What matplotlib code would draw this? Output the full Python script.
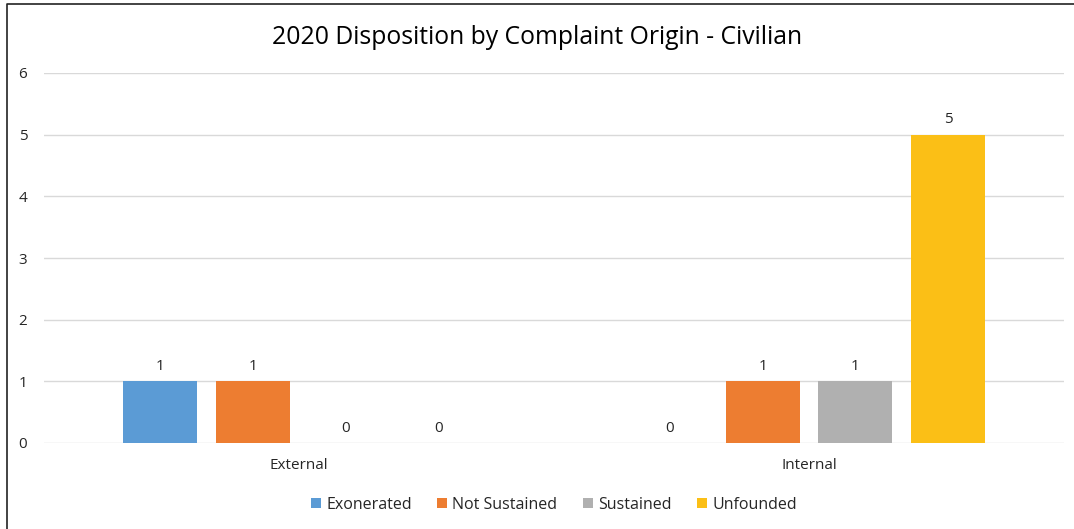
import matplotlib
matplotlib.use("Agg")
import matplotlib.pyplot as plt
from matplotlib.lines import Line2D
import numpy as np

plt.rcParams['font.family'] = ['Open Sans', 'DejaVu Sans']

categories = ["External", "Internal"]
series_names = ["Exonerated", "Not Sustained", "Sustained", "Unfounded"]
exonerated = [1, 0]
not_sustained = [1, 1]
sustained = [0, 1]
unfounded = [0, 5]
colors = ["#5B9BD5", "#ED7D31", "#B0B0B0", "#FBBF16"]

W, H = 1074, 529
fig = plt.figure(figsize=(W / 100, H / 100), dpi=100)
ax = fig.add_axes([44 / W, 1 - 443 / H, (1064 - 44) / W, (443 - 73) / H])

x = np.arange(len(categories))
bar_w = 0.145
step = 0.182
all_series = [exonerated, not_sustained, sustained, unfounded]
for i, (name, vals, c) in enumerate(zip(series_names, all_series, colors)):
    offs = (i - 1.5) * step
    bars = ax.bar(x + offs, vals, width=bar_w, color=c, label=name, zorder=3)
    for b, v in zip(bars, vals):
        ax.text(b.get_x() + b.get_width() / 2, v + 0.12, str(v),
                ha='center', va='bottom', fontsize=11, color='#262626')

ax.set_xlim(-0.5, 1.5)
ax.set_ylim(0, 6)
ax.set_yticks(range(0, 7))
ax.set_xticks(x)
ax.set_xticklabels(categories)
ax.grid(axis='y', color='#D9D9D9', linewidth=1, zorder=0)
for s in ax.spines.values():
    s.set_visible(False)
ax.tick_params(axis='both', length=0, labelsize=11, colors='#262626')
ax.tick_params(axis='y', pad=12)
ax.tick_params(axis='x', pad=11)

fig.suptitle("2020 Disposition by Complaint Origin - Civilian", y=1 - 37 / H,
             va='center', fontsize=17.8, color='#000000')

ax.legend(loc='center', bbox_to_anchor=(0.5, (443 - 505) / (443 - 73)),
          ncol=4, frameon=False, fontsize=11.5, handlelength=0.6, handleheight=0.6,
          handletextpad=0.35, columnspacing=1.6, labelcolor='#262626')

# chart border
fig.add_artist(Line2D([7 / W, 7 / W, 1.0], [0.0, 1 - 4 / H, 1 - 4 / H],
                      transform=fig.transFigure, color='#222222', linewidth=1.2))

fig.savefig("out.png", dpi=100)
